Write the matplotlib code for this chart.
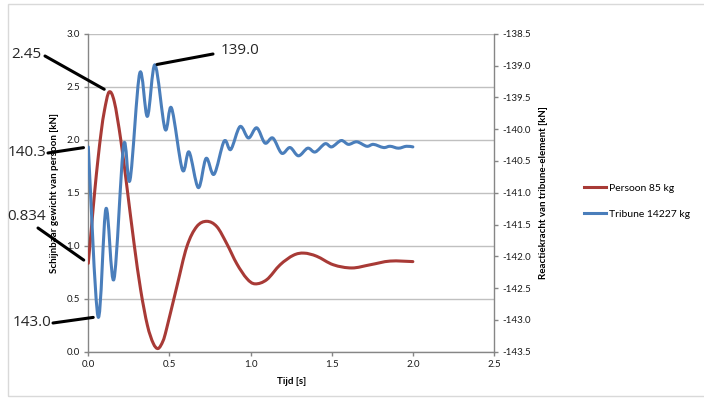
import matplotlib
matplotlib.use('Agg')
import matplotlib.pyplot as plt
from matplotlib.path import Path
from matplotlib.patches import PathPatch, Rectangle
from matplotlib.lines import Line2D
import numpy as np

plt.rcParams['font.family'] = ['Lato', 'DejaVu Sans']
plt.rcParams['axes.unicode_minus'] = False

# Persoon 85 kg (left axis) [kN]
persoon_t = [0.0, 0.02, 0.04, 0.06, 0.08, 0.10, 0.128, 0.16, 0.20, 0.24, 0.282, 0.323, 0.364,
             0.40, 0.43, 0.46, 0.483, 0.545, 0.607, 0.668, 0.73, 0.792, 0.853, 0.915, 0.977,
             1.028, 1.10, 1.182, 1.264, 1.33, 1.408, 1.51, 1.624, 1.737, 1.86, 2.0]
persoon_v = [0.834, 1.18, 1.52, 1.82, 2.08, 2.28, 2.45, 2.36, 2.0, 1.53, 1.02, 0.58, 0.25,
             0.08, 0.03, 0.10, 0.22, 0.61, 0.99, 1.18, 1.23, 1.18, 1.02, 0.83, 0.69,
             0.64, 0.68, 0.82, 0.91, 0.93, 0.90, 0.82, 0.79, 0.82, 0.855, 0.85]

# Tribune 14227 kg (right axis) [kN]
tribune_t = [0.0, 0.06, 0.109, 0.158, 0.218, 0.257, 0.317, 0.364, 0.411, 0.473, 0.513,
             0.58, 0.621, 0.678, 0.726, 0.775, 0.837, 0.878, 0.935, 0.987, 1.038,
             1.089, 1.137, 1.192, 1.243, 1.295, 1.352, 1.398, 1.459, 1.50, 1.558,
             1.603, 1.655, 1.716, 1.757, 1.819, 1.86, 1.911, 1.96, 2.0]
tribune_v = [-140.28, -142.95, -141.25, -142.36, -140.25, -140.80, -139.12, -139.80, -138.99,
             -140.00, -139.67, -140.64, -140.36, -140.92, -140.46, -140.71, -140.19, -140.32,
             -139.96, -140.14, -139.98, -140.22, -140.14, -140.38, -140.29, -140.42, -140.30,
             -140.36, -140.23, -140.28, -140.18, -140.24, -140.20, -140.27, -140.24, -140.29,
             -140.27, -140.30, -140.27, -140.28]

left_ticks = np.arange(0, 3.01, 0.5)
right_ticks = np.arange(-143.5, -138.49, 0.5)
x_ticks = np.arange(0, 2.51, 0.5)

red = '#A83A36'
blue = '#4A7EBB'
spine_col = '#868686'
grid_col = '#c0c0c0'


# smooth line through the points, like Excel's "smoothed line"
def smooth_path(x, y):
    pts = np.column_stack([x, y])
    verts = [pts[0]]
    codes = [Path.MOVETO]
    n = len(pts)
    for i in range(n - 1):
        p0 = pts[i - 1] if i > 0 else pts[i]
        p1 = pts[i]
        p2 = pts[i + 1]
        p3 = pts[i + 2] if i + 2 < n else pts[i + 1]
        verts += [p1 + (p2 - p0) / 6, p2 - (p3 - p1) / 6, p2]
        codes += [Path.CURVE4] * 3
    return Path(verts, codes)


fig = plt.figure(figsize=(7.04, 3.98), dpi=100)
ax = fig.add_axes([88.3 / 704, 1 - 351.7 / 398, (494 - 88.3) / 704, 318 / 398])
ax2 = ax.twinx()

ax.add_patch(PathPatch(smooth_path(persoon_t, persoon_v), fill=False, edgecolor=red,
                       lw=2.2, capstyle='round', joinstyle='round', zorder=3))
ax2.add_patch(PathPatch(smooth_path(tribune_t, tribune_v), fill=False, edgecolor=blue,
                        lw=2.2, capstyle='round', joinstyle='round', zorder=3))

ax.set_xlim(0, 2.5)
ax.set_ylim(0, 3.0)
ax2.set_ylim(-143.5, -138.5)
ax.set_xticks(x_ticks)
ax.set_yticks(left_ticks)
ax2.set_yticks(right_ticks)
ax.set_xticklabels(['%.1f' % v for v in x_ticks])
ax.set_yticklabels(['%.1f' % v for v in left_ticks])
ax2.set_yticklabels(['%.1f' % v for v in right_ticks])

ax.yaxis.grid(True, color=grid_col, lw=1.0)
ax.set_axisbelow(True)

for a in (ax, ax2):
    for s in a.spines.values():
        s.set_color(spine_col)
        s.set_linewidth(1.0)
    a.spines['top'].set_visible(False)
    a.tick_params(colors=spine_col, labelcolor='#1a1a1a', labelsize=7, length=3, width=1.0, pad=3)
ax.spines['right'].set_visible(False)
ax2.spines['left'].set_visible(False)
ax2.spines['bottom'].set_visible(False)

ax.set_xlabel('Tijd [s]', fontsize=7, fontweight='bold', labelpad=6)
ax.set_ylabel('Schijnbaar gewicht van persoon [kN]', fontsize=7, fontweight='bold', labelpad=5)
ax2.set_ylabel('Reactiekracht van tribune-element [kN]', fontsize=7, fontweight='bold', labelpad=6)

handles = [Line2D([], [], color=red, lw=2.2), Line2D([], [], color=blue, lw=2.2)]
fig.legend(handles, ['Persoon 85 kg', 'Tribune 14227 kg'], loc='center left',
           bbox_to_anchor=(584 / 704, 1 - 201 / 398), frameon=False, fontsize=7.5,
           handlelength=2.1, handletextpad=0.3, labelspacing=1.6, borderpad=0, borderaxespad=0)

# chart border
fig.patches.append(Rectangle((8 / 704, 2 / 398), 1.0, 1 - 6 / 398, transform=fig.transFigure,
                             fill=False, edgecolor='#d9d9d9', lw=1.0))

# value callouts
i_max = int(np.argmax(persoon_v))
j_max = int(np.argmax(tribune_v))
j_min = int(np.argmin(tribune_v))
callouts = [
    (ax, persoon_t[i_max], persoon_v[i_max], (45, 56), (26, 55), '2.45', 4),
    (ax2, tribune_t[j_max], tribune_v[j_max], (213, 54), (240, 50), '139.0', 1.5),
    (ax2, tribune_t[0], tribune_v[0], (48, 153), (27, 152), '140.3', 3.5),
    (ax, persoon_t[0], persoon_v[0], (38, 228), (27, 216), '0.834', 4),
    (ax2, tribune_t[j_min], tribune_v[j_min], (53, 323), (32, 323), '143.0', 3.5),
]
for a, xd, yd, start, tpos, label, shrink in callouts:
    a.annotate('', xy=(xd, yd), xytext=(start[0], 398 - start[1]), textcoords='figure pixels',
               arrowprops=dict(arrowstyle='-', lw=2.2, color='black', shrinkA=0, shrinkB=shrink),
               annotation_clip=False)
    fig.text(tpos[0] / 704, 1 - tpos[1] / 398, label, fontsize=11, color='#262626',
             family=['Open Sans', 'DejaVu Sans'], ha='center', va='center')

fig.savefig('out.png', dpi=100)
